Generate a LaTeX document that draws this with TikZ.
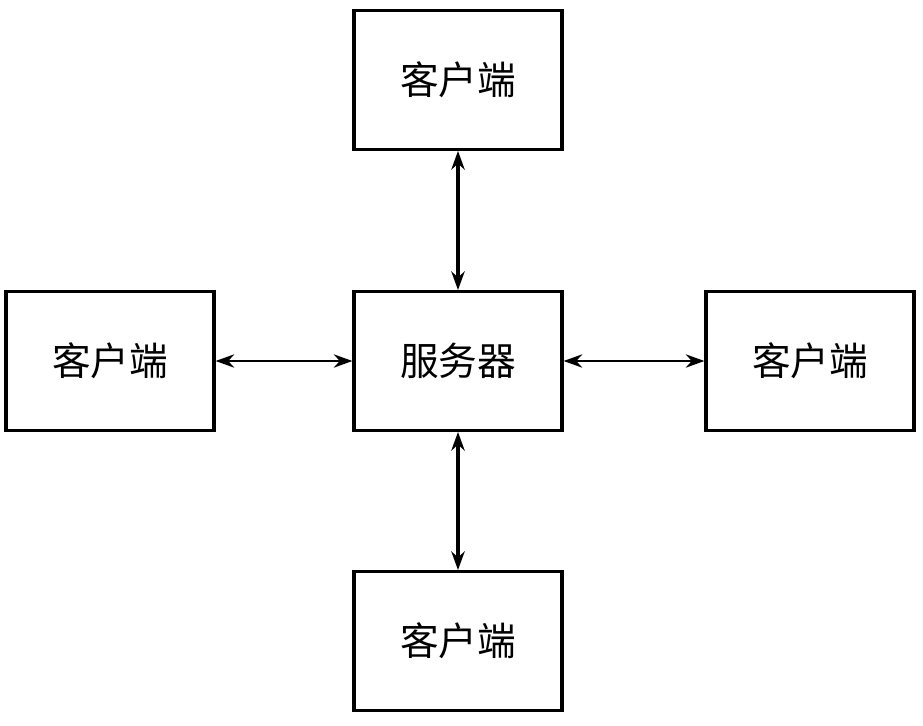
\documentclass[tikz,border=0pt]{standalone}
\usepackage{fontspec}
\newfontfamily\cjk{Noto Sans CJK SC}
\usepackage{tikz}
\usetikzlibrary{arrows.meta}

\begin{document}
\begin{tikzpicture}[x=0.75pt, y=-0.75pt,
  box/.style={draw, line width=2.4pt, minimum width=156pt, minimum height=104pt,
    inner sep=0pt, font=\cjk\fontsize{29}{34}\selectfont},
  link/.style={{Stealth[length=14pt,width=10pt]}-{Stealth[length=14pt,width=10pt]}, line width=1.8pt}]
  \useasboundingbox (0,0) rectangle (923,725);

  \node[box] (S) at (458,361) {服务器};
  \node[box] (T) at (458,80) {客户端};
  \node[box] (L) at (110,361) {客户端};
  \node[box] (R) at (810,361) {客户端};
  \node[box] (B) at (458,641) {客户端};

  \draw[link, line width=2.4pt] (T) to (S);
  \draw[link] (L) to (S);
  \draw[link] (S) to (R);
  \draw[link, line width=2.4pt] (S) to (B);
\end{tikzpicture}
\end{document}
